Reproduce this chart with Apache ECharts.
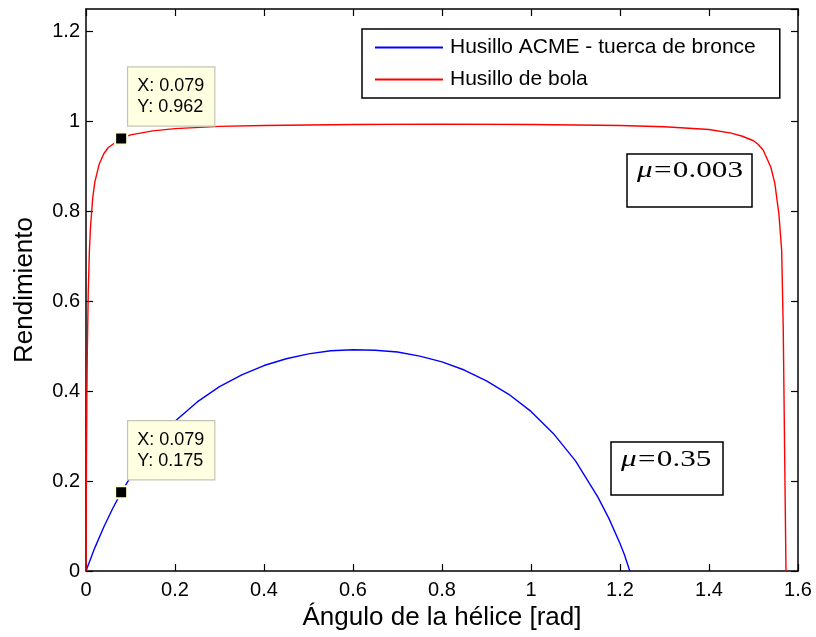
<!DOCTYPE html>
<html>
<head>
<meta charset="utf-8">
<script src="https://cdn.jsdelivr.net/npm/echarts@6/dist/echarts.min.js"></script>
<style>html,body{margin:0;padding:0;background:#fff}#c{width:816px;height:637px}</style>
</head>
<body>
<div id="c"></div>
<script>
// Husillo ACME - tuerca de bronce (mu = 0.35)
const acmeX = [0, 0.02, 0.04, 0.06, 0.079, 0.1, 0.15, 0.2, 0.25, 0.3, 0.35, 0.4, 0.45, 0.5, 0.55, 0.6, 0.65, 0.7, 0.75, 0.8, 0.85, 0.9, 0.95, 1.0, 1.05, 1.1, 1.15, 1.175, 1.2, 1.21, 1.222];
const acmeY = [0, 0.052, 0.098, 0.139, 0.175, 0.209, 0.279, 0.333, 0.376, 0.410, 0.436, 0.457, 0.472, 0.483, 0.490, 0.492, 0.491, 0.487, 0.478, 0.465, 0.447, 0.423, 0.393, 0.355, 0.306, 0.245, 0.165, 0.117, 0.061, 0.036, 0];
// Husillo de bola (mu = 0.003)
const ballX = [0, 0.001, 0.002, 0.003, 0.005, 0.0075, 0.01, 0.015, 0.02, 0.03, 0.04, 0.05, 0.079, 0.1, 0.15, 0.2, 0.3, 0.4, 0.6, 0.8, 1.0, 1.2, 1.3, 1.4, 1.45, 1.475, 1.5, 1.51, 1.522, 1.539, 1.548, 1.553, 1.557, 1.5633, 1.5668, 1.573];
const ballY = [0, 0.244, 0.392, 0.492, 0.617, 0.708, 0.763, 0.829, 0.866, 0.906, 0.928, 0.942, 0.962, 0.970, 0.979, 0.984, 0.989, 0.991, 0.993, 0.994, 0.993, 0.991, 0.988, 0.982, 0.974, 0.967, 0.957, 0.949, 0.936, 0.898, 0.862, 0.824, 0.795, 0.713, 0.542, 0];
// Data tips
const tipX = [0.079, 0.079];
const tipY = [0.962, 0.175];
const seriesNames = ['Husillo ACME - tuerca de bronce', 'Husillo de bola'];
const muLabels = ['0.003', '0.35'];
const xTicks = {min: 0, max: 1.6, interval: 0.2};
const yTicks = {min: 0, max: 1.25, interval: 0.2};

const FONT = 'Liberation Sans, Arial, Helvetica, sans-serif';
const SERIF = 'Liberation Serif, Times New Roman, serif';
const zip = (a, b) => a.map((v, i) => [v, b[i]]);

const chart = echarts.init(document.getElementById('c'), null, {renderer: 'canvas'});

const axisCommon = {
  axisLine: {show: true, onZero: false, lineStyle: {color: '#000', width: 1.5}},
  axisTick: {show: true, inside: true, length: 7, lineStyle: {color: '#000', width: 1.2}},
  splitLine: {show: false}
};

const lineIcon = 'path://M0,0h0.01v0.01h-0.01z M0,21h0.01v0.01h-0.01z M0,9.6h68v1.8h-68z';

const muRich = {
  m: {fontFamily: SERIF, fontStyle: 'italic', fontSize: 24, padding: [0, 1, 0, 0], fill: '#000', color: '#000'},
  e: {fontFamily: SERIF, fontSize: 24, padding: [0, 1, 0, 0], fill: '#000', color: '#000'},
  d: {fontFamily: SERIF, fontSize: 24, fill: '#000', color: '#000'}
};

const option = {
  animation: false,
  backgroundColor: '#fff',
  grid: {left: 86, right: 18, top: 9, bottom: 66, containLabel: false, outerBoundsMode: 'none'},
  xAxis: [
    Object.assign({
      type: 'value', min: xTicks.min, max: xTicks.max, interval: xTicks.interval, position: 'bottom',
      name: 'Ángulo de la hélice [rad]', nameLocation: 'middle', nameGap: 27,
      nameTextStyle: {fontFamily: FONT, fontSize: 26, color: '#000'},
      axisLabel: {fontFamily: FONT, fontSize: 20, color: '#000', margin: 9}
    }, axisCommon),
    Object.assign({
      type: 'value', min: xTicks.min, max: xTicks.max, interval: xTicks.interval, position: 'top',
      axisLabel: {show: false}
    }, axisCommon)
  ],
  yAxis: [
    Object.assign({
      type: 'value', min: yTicks.min, max: yTicks.max, interval: yTicks.interval, position: 'left',
      name: 'Rendimiento', nameLocation: 'middle', nameGap: 48,
      nameTextStyle: {fontFamily: FONT, fontSize: 26, color: '#000'},
      axisLabel: {fontFamily: FONT, fontSize: 20, color: '#000', margin: 6, showMaxLabel: false,
        formatter: v => (Math.abs(v / 0.2 - Math.round(v / 0.2)) < 1e-6 ? String(+v.toFixed(2)) : '')}
    }, axisCommon),
    Object.assign({
      type: 'value', min: yTicks.min, max: yTicks.max, interval: yTicks.interval, position: 'right',
      axisLabel: {show: false}
    }, axisCommon)
  ],
  legend: {
    show: true, orient: 'vertical', left: 362, top: 29,
    padding: [8, 24, 8, 13], itemWidth: 68, itemHeight: 21, itemGap: 11,
    borderColor: '#000', borderWidth: 1.5, backgroundColor: '#fff',
    icon: lineIcon, itemStyle: {borderWidth: 0},
    textStyle: {fontFamily: FONT, fontSize: 21, color: '#000', padding: [0, 0, 0, 2]},
    data: seriesNames
  },
  series: [
    {
      name: seriesNames[0], type: 'line', data: zip(acmeX, acmeY), symbol: 'none', smooth: false,
      lineStyle: {color: '#0000ff', width: 1.4}, itemStyle: {color: '#0000ff'}, z: 3
    },
    {
      name: seriesNames[1], type: 'line', data: zip(ballX, ballY), symbol: 'none', smooth: false,
      lineStyle: {color: '#ff0000', width: 1.4}, itemStyle: {color: '#ff0000'}, z: 3
    },
    {
      type: 'scatter', data: zip(tipX, tipY), symbol: 'rect', symbolSize: 12, z: 10,
      itemStyle: {color: '#000', borderColor: '#ffffe1', borderWidth: 2, opacity: 1},
      label: {
        show: true, position: [14, -64], align: 'left', verticalAlign: 'top',
        formatter: p => 'X: ' + p.value[0].toFixed(3) + '\nY: ' + p.value[1].toFixed(3),
        fontFamily: FONT, fontSize: 18, lineHeight: 21, color: '#000',
        backgroundColor: '#ffffe1', borderColor: '#c4c4b4', borderWidth: 1.2,
        padding: [8, 10, 8, 9]
      },
      emphasis: {disabled: true}, silent: true
    }
  ],
  graphic: [
    {type: 'rect', shape: {x: 627, y: 154, width: 125, height: 53}, style: {fill: '#fff', stroke: '#000', lineWidth: 1.5}, z: 20},
    {type: 'text', x: 637, y: 171, scaleX: 1.3, z: 21, style: {
      text: '{m|μ}{e|=}{d|' + muLabels[0] + '}', textVerticalAlign: 'middle', textAlign: 'left', rich: muRich
    }},
    {type: 'rect', shape: {x: 611, y: 442, width: 112, height: 53}, style: {fill: '#fff', stroke: '#000', lineWidth: 1.5}, z: 20},
    {type: 'text', x: 621, y: 460, scaleX: 1.3, z: 21, style: {
      text: '{m|μ}{e|=}{d|' + muLabels[1] + '}', textVerticalAlign: 'middle', textAlign: 'left', rich: muRich
    }}
  ]
};
chart.setOption(option);
</script>
</body>
</html>
